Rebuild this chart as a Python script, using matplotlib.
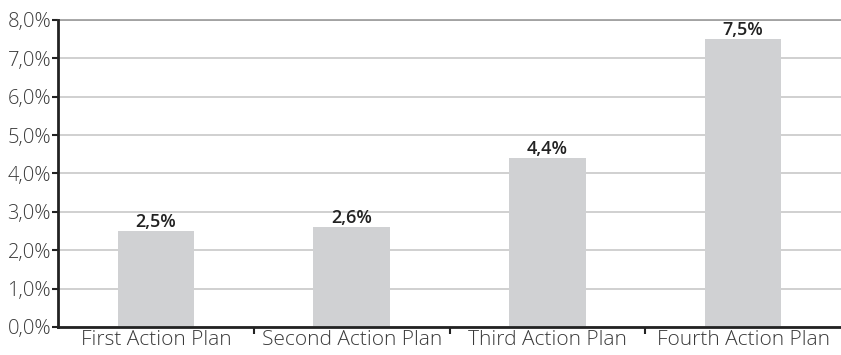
import matplotlib
matplotlib.use("Agg")
import matplotlib.pyplot as plt
from matplotlib.ticker import FixedLocator, NullFormatter, FuncFormatter

categories = ["First Action Plan", "Second Action Plan", "Third Action Plan", "Fourth Action Plan"]
values = [2.5, 2.6, 4.4, 7.5]
y_ticks = [0, 1, 2, 3, 4, 5, 6, 7, 8]

plt.rcParams['font.family'] = ['Open Sans', 'DejaVu Sans']

fig = plt.figure(figsize=(8.41, 3.55), dpi=100)
ax = fig.add_axes([0.069, 0.079, 0.931, 0.865])

x = list(range(len(categories)))
ax.bar(x, values, width=0.39, color="#D0D1D3", zorder=2)

for xi, v in zip(x, values):
    ax.text(xi, v, f"{v:.1f}%".replace(".", ","), ha="center", va="bottom",
            fontsize=13, fontweight="semibold", color="#222222", zorder=3)

ax.set_xlim(-0.5, len(categories) - 0.5)
ax.set_ylim(0, 8)
ax.set_yticks(y_ticks)
ax.yaxis.set_major_formatter(FuncFormatter(lambda v, p: f"{v:.1f}%".replace(".", ",")))
ax.yaxis.grid(True, color="#C8C8C8", linewidth=1.2, zorder=0)
ax.set_axisbelow(True)
# the top gridline is drawn a touch darker
ax.axhline(y_ticks[-1], color="#9A9A9A", linewidth=1.2, zorder=1, clip_on=False)

# category labels centred, ticks at category boundaries
ax.xaxis.set_major_locator(FixedLocator([0.5, 1.5, 2.5]))
ax.xaxis.set_major_formatter(NullFormatter())
ax.xaxis.set_minor_locator(FixedLocator(x))
ax.set_xticklabels(categories, minor=True)
ax.tick_params(axis="x", which="major", direction="out", length=5, width=1.5, color="#222222")
ax.tick_params(axis="x", which="minor", length=0, pad=2, labelsize=15, labelcolor="#3a3a3a")
ax.tick_params(axis="y", direction="out", length=4, width=1.5, color="#222222",
               labelsize=14.5, labelcolor="#3a3a3a", pad=1)
for lab in ax.get_xticklabels(minor=True) + ax.get_yticklabels():
    lab.set_fontweight("light")

for side in ("top", "right"):
    ax.spines[side].set_visible(False)
for side in ("left", "bottom"):
    ax.spines[side].set_color("#222222")
    ax.spines[side].set_linewidth(2)

fig.savefig("out.png", dpi=100, facecolor="white")
